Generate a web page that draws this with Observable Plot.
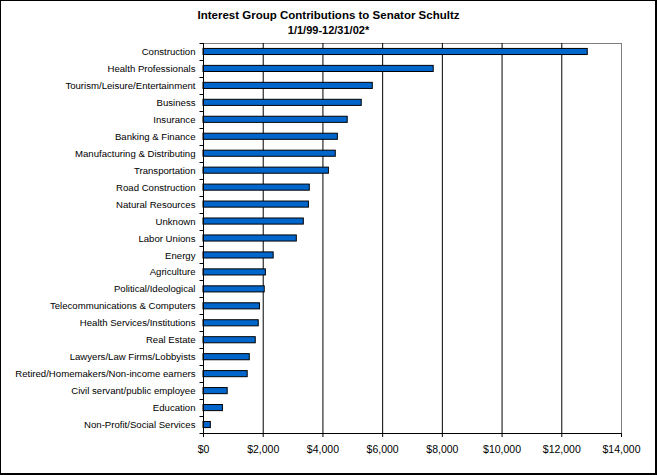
<!DOCTYPE html>
<html>
<head>
<meta charset="utf-8">
<script src="https://cdn.jsdelivr.net/npm/d3@7"></script>
<script src="https://cdn.jsdelivr.net/npm/@observablehq/plot@0.6"></script>
<style>
  html, body { margin: 0; padding: 0; background: #fff; }
  #wrap { position: relative; width: 657px; height: 475px; overflow: hidden; font-family: "Liberation Sans", Arial, sans-serif; }
  #wrap svg { position: absolute; left: 0; top: 0; }
  .t1, .t2 { position: absolute; left: 0; width: 657px; text-align: center; font-weight: bold; line-height: 14px; color: #000; }
  .t1 { top: 8px; font-size: 11.5px; }
  .t2 { top: 23px; font-size: 11px; }
  #border { position: absolute; left: 0; top: 0; width: 657px; height: 475px; box-sizing: border-box; border-left: 1px solid #000; border-top: 1px solid #000; border-right: 2px solid #000; border-bottom: 2px solid #000; pointer-events: none; }
</style>
</head>
<body>
<div id="wrap">
  <div class="t1">Interest Group Contributions to Senator Schultz</div>
  <div class="t2">1/1/99-12/31/02*</div>
</div>
<script>
const categories = [
  "Construction",
  "Health Professionals",
  "Tourism/Leisure/Entertainment",
  "Business",
  "Insurance",
  "Banking & Finance",
  "Manufacturing & Distributing",
  "Transportation",
  "Road Construction",
  "Natural Resources",
  "Unknown",
  "Labor Unions",
  "Energy",
  "Agriculture",
  "Political/Ideological",
  "Telecommunications & Computers",
  "Health Services/Institutions",
  "Real Estate",
  "Lawyers/Law Firms/Lobbyists",
  "Retired/Homemakers/Non-income earners",
  "Civil servant/public employee",
  "Education",
  "Non-Profit/Social Services"
];
const contributions = [
  12870, 7710, 5670, 5300, 4830, 4500, 4430, 4200, 3560, 3530, 3360, 3125,
  2350, 2090, 2050, 1890, 1850, 1750, 1550, 1480, 810, 650, 245
];
const xTicks = [0, 2000, 4000, 6000, 8000, 10000, 12000, 14000];
const gridTicks = [2000, 4000, 6000, 8000, 10000, 12000];

const data = categories.map((name, i) => ({name, value: contributions[i]}));
const fmt = d3.format(",");

function catTicks(index, scales, values, dims) {
  const g = d3.create("svg:g").attr("stroke", "black").attr("stroke-width", 1);
  const top = dims.marginTop, bottom = dims.height - dims.marginBottom;
  const step = (bottom - top) / categories.length;
  const x0 = Math.round(scales.x(0)) + 0.5;
  for (let i = 0; i <= categories.length; i++) {
    const y = Math.round(top + i * step) + 0.5;
    g.append("line").attr("x1", x0 - 4).attr("x2", x0).attr("y1", y).attr("y2", y);
  }
  // bottom axis line
  const yb = Math.round(bottom) + 0.5;
  g.append("line").attr("x1", x0).attr("x2", Math.round(scales.x(14000)) + 0.5).attr("y1", yb).attr("y2", yb);
  return g.node();
}

const chart = Plot.plot({
  width: 657,
  height: 475,
  marginLeft: 203,
  marginRight: 36,
  marginTop: 43,
  marginBottom: 42,
  style: {fontFamily: "'Liberation Sans', Arial, sans-serif", fontSize: "9.6px", background: "transparent", color: "black"},
  x: {domain: [0, 14000], axis: null},
  y: {domain: categories, paddingInner: 0.64, paddingOuter: 0.32, round: false, axis: null},
  marks: [
    Plot.frame({stroke: "#808080"}),
    Plot.ruleX(gridTicks, {stroke: "black", strokeWidth: 1}),
    Plot.barX(data, {x: "value", y: "name", fill: "#0066cc", stroke: "black", strokeWidth: 1}),
    Plot.ruleX([0], {stroke: "black"}),
    Plot.axisY({tickSize: 0, tickPadding: 8, fontSize: 9.6, label: null}),
    Plot.axisX({ticks: xTicks, tickSize: 4, tickPadding: 8, fontSize: 10.5, tickFormat: d => "$" + fmt(d), label: null, stroke: "black"}),
    catTicks
  ]
});
document.getElementById("wrap").appendChild(chart);
const b = document.createElement("div");
b.id = "border";
document.getElementById("wrap").appendChild(b);
</script>
</body>
</html>
